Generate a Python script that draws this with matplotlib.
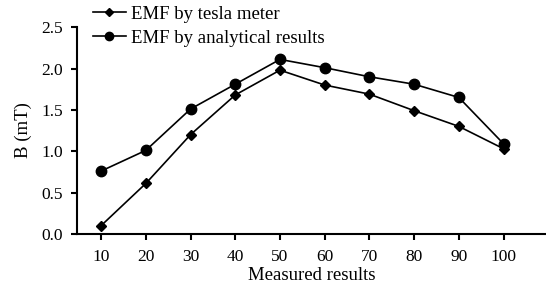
import matplotlib
matplotlib.use("Agg")
import matplotlib.pyplot as plt

x_vals = [10, 20, 30, 40, 50, 60, 70, 80, 90, 100]
tesla_meter = [0.10, 0.61, 1.20, 1.68, 1.98, 1.80, 1.69, 1.49, 1.30, 1.03]
analytical = [0.76, 1.01, 1.51, 1.81, 2.11, 2.01, 1.90, 1.81, 1.65, 1.09]
y_ticks = [0.0, 0.5, 1.0, 1.5, 2.0, 2.5]

plt.rcParams['font.family'] = ['Liberation Serif', 'DejaVu Serif']
plt.rcParams['font.size'] = 12.5

fig = plt.figure(figsize=(5.46, 2.92), dpi=100)
ax = fig.add_axes([0.141, 0.199, 0.859, 0.708])

ax.plot(x_vals, tesla_meter, color='black', lw=1.2, marker='D', ms=4.8,
        label='EMF by tesla meter')
ax.plot(x_vals, analytical, color='black', lw=1.2, marker='o', ms=7.5,
        label='EMF by analytical results')

ax.set_xlim(4.6, 109.5)
ax.set_ylim(0, 2.5)
ax.set_xticks(x_vals)
ax.set_yticks(y_ticks)
ax.set_yticklabels([f"{v:.1f}" for v in y_ticks])
ax.spines['top'].set_visible(False)
ax.spines['right'].set_visible(False)
ax.spines['left'].set_linewidth(1.5)
ax.spines['bottom'].set_linewidth(1.5)
ax.tick_params(direction='out', width=1.5, length=4)
ax.tick_params(axis='x', pad=7)
ax.tick_params(axis='y', pad=6)
ax.set_xlabel('Measured results', fontsize=13.5, labelpad=1)
ax.set_ylabel('B (mT)', fontsize=13.5, labelpad=7)

leg = ax.legend(loc='upper left', bbox_to_anchor=(0.018, 1.14), frameon=False,
                handlelength=1.75, handletextpad=0.3, borderaxespad=0,
                labelspacing=0.35, fontsize=13.5, markerscale=0.8)

fig.savefig('out.png', dpi=100)
